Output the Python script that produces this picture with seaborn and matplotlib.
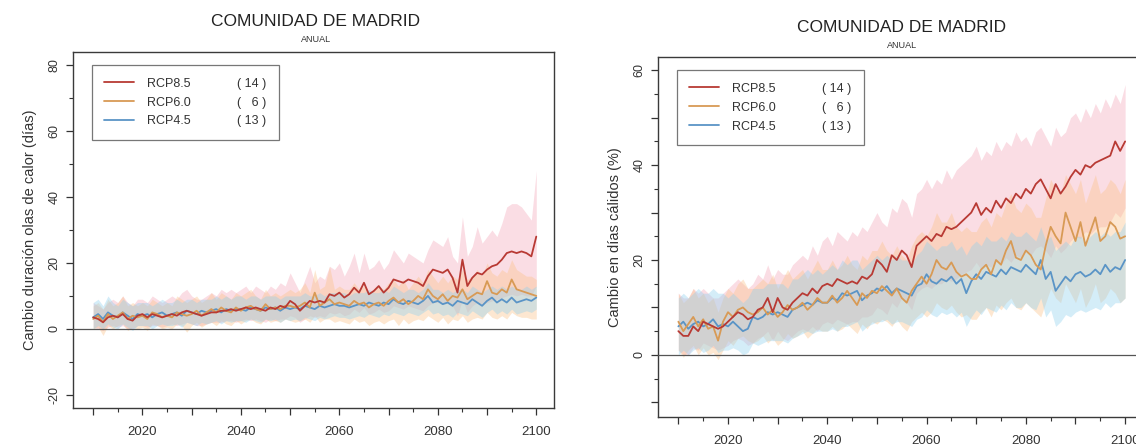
import numpy as np
import pandas as pd
import matplotlib
matplotlib.use("Agg")
import matplotlib.pyplot as plt
from matplotlib.lines import Line2D
from matplotlib.ticker import MultipleLocator, FuncFormatter
import seaborn as sns

# ---------------- data ----------------
years = list(range(2010, 2101))
scenarios = ["RCP8.5", "RCP6.0", "RCP4.5"]
n_models = [14, 6, 13]

# Left panel: Cambio duración olas de calor (días)
L85_mean = [3.5, 3.0, 2.0, 3.5, 4.0, 3.5, 4.5, 3.0, 2.5, 4.0,
            4.5, 3.5, 4.5, 4.0, 3.5, 4.0, 4.5, 4.0, 5.0, 5.5,
            5.0, 4.5, 4.0, 4.5, 5.0, 5.0, 5.5, 5.5, 6.0, 5.5,
            6.0, 6.5, 6.0, 6.5, 6.0, 5.5, 6.5, 6.0, 7.0, 6.5,
            8.5, 7.5, 5.5, 7.0, 8.5, 8.0, 8.5, 8.0, 10.5, 10.0,
            11.0, 9.5, 10.5, 12.5, 11.0, 14.0, 10.5, 11.5, 13.0, 11.0,
            12.5, 15.0, 14.5, 14.0, 15.0, 14.5, 14.0, 13.0, 16.0, 18.0,
            17.5, 17.0, 18.0, 15.5, 11.0, 21.0, 13.0, 15.5, 17.0, 16.5,
            18.0, 19.0, 19.5, 21.0, 23.0, 23.5, 23.0, 23.5, 23.0, 22.0, 28.0]
L85_hi = [8, 7, 6, 8, 9, 8, 10, 8, 7, 9,
          9, 8, 10, 9, 8, 9, 10, 9, 11, 12,
          10, 9, 9, 10, 11, 10, 12, 11, 12, 11,
          12, 13, 11, 13, 12, 11, 13, 12, 14, 13,
          17, 14, 11, 15, 19, 14, 16, 15, 19, 18,
          20, 16, 19, 23, 17, 23, 18, 19, 21, 18,
          20, 24, 22, 20, 23, 22, 21, 20, 24, 27,
          26, 25, 28, 22, 20, 34, 22, 25, 31, 26,
          28, 30, 28, 32, 37, 38, 38, 37, 35, 33, 48]
L85_lo = [0.5, 0, -0.5, 0.5, 1, 0.5, 1, 0, 0, 1,
          1, 0.5, 1, 1, 0.5, 1, 1.5, 1, 1.5, 2,
          1.5, 1, 1, 1.5, 2, 2, 2, 2.5, 2.5, 2,
          2.5, 3, 2.5, 3, 2.5, 2, 3, 2.5, 3, 3,
          4, 3.5, 2, 3, 4, 3.5, 4, 3.5, 5, 4.5,
          5, 4, 4.5, 6, 5, 6.5, 4.5, 5, 6, 5,
          5.5, 7, 6.5, 6, 7, 6.5, 6, 5.5, 7, 8,
          8, 7.5, 8, 7, 4, 9, 5, 7, 8, 7.5,
          8, 8.5, 9, 9.5, 10, 10.5, 10, 10.5, 10, 10, 13]

L60_mean = [3.0, 4.0, 2.0, 4.5, 3.0, 4.0, 5.0, 3.0, 4.0, 3.5,
            4.0, 3.0, 5.0, 4.5, 3.5, 4.0, 3.5, 5.0, 4.5, 4.0,
            4.5, 5.5, 4.0, 5.0, 6.0, 5.0, 6.5, 5.5, 5.0, 6.5,
            5.5, 6.5, 7.0, 6.0, 5.5, 7.5, 6.0, 6.5, 6.0, 7.0,
            7.0, 6.5, 7.0, 8.0, 6.5, 11.0, 7.0, 8.0, 9.0, 7.5,
            8.0, 7.5, 7.0, 8.5, 7.5, 8.0, 6.5, 7.5, 8.0, 7.0,
            8.5, 9.5, 8.0, 9.0, 7.5, 8.5, 10.0, 9.0, 12.0, 10.0,
            9.0, 10.5, 8.5, 10.0, 9.5, 12.0, 9.0, 10.0, 11.0, 10.5,
            14.5, 11.0, 10.5, 12.0, 11.0, 15.0, 12.0, 11.5, 11.0, 10.5, 10.0]
L60_hi = [7, 8, 6, 9, 7, 8, 10, 7, 8, 7,
          8, 7, 9, 8, 7, 8, 7, 10, 9, 8,
          9, 10, 8, 9, 11, 9, 11, 10, 9, 11,
          10, 11, 12, 10, 9, 12, 10, 11, 10, 11,
          12, 11, 12, 14, 11, 18, 12, 13, 19, 12,
          13, 12, 12, 14, 12, 13, 11, 12, 13, 12,
          14, 15, 13, 15, 12, 14, 16, 14, 18, 16,
          14, 16, 14, 16, 15, 18, 15, 16, 18, 16,
          20, 17, 16, 18, 17, 21, 18, 17, 16, 16, 15]
L60_lo = [0, 0.5, -2, 1, 0, 1, 1.5, -0.5, 0.5, 0,
          0.5, -0.5, 1.5, 1, 0, 0.5, 0, 1.5, 1, -1,
          1, 2, 0.5, 1.5, 2, 1, 2.5, 1.5, 1, 2.5,
          1.5, 2.5, 3, 2, 1.5, 3, 2, 2.5, 2, 3,
          2.5, 2, 2.5, 3, 2, 4, 2, 3, 3, 2,
          2.5, 2, 1.5, 3, 2, 2.5, 1, 2, 2.5, 1.5,
          2.5, 3, 1, 3, 1.5, 2.5, 3, 2.5, 4, 3,
          2, 3.5, 1.5, 3, 2.5, 4, 2, 3, 3.5, 3,
          5, 3.5, 3, 4, 3, 5, 4, 3.5, 3.5, 3, 3]

L45_mean = [3.5, 4.5, 3.0, 5.0, 4.0, 3.5, 5.0, 4.0, 3.0, 4.5,
            4.0, 4.5, 3.5, 4.5, 5.0, 4.0, 4.5, 5.0, 4.0, 5.5,
            5.0, 4.5, 5.5, 5.0, 5.5, 6.0, 5.0, 6.0, 5.5, 6.0,
            6.0, 5.5, 6.5, 6.0, 5.5, 6.5, 6.0, 6.5, 5.5, 6.5,
            6.0, 6.5, 6.0, 7.0, 6.5, 6.0, 7.0, 6.5, 7.0, 7.5,
            7.0, 7.0, 6.5, 7.0, 7.5, 7.0, 8.0, 7.5, 7.0, 8.0,
            7.5, 9.0, 8.0, 7.5, 8.5, 8.0, 7.5, 8.5, 10.0, 8.0,
            8.5, 7.5, 8.0, 7.0, 8.5, 8.0, 7.5, 9.0, 8.0, 7.0,
            8.5, 9.5, 8.0, 9.0, 8.0, 9.5, 8.0, 8.5, 9.0, 8.5, 9.5]
L45_hi = [8, 9, 7, 10, 8, 7, 9, 8, 7, 8,
          8, 8, 7, 8, 9, 8, 8, 9, 8, 9,
          9, 8, 9, 9, 9, 10, 9, 10, 9, 10,
          10, 9, 10, 10, 9, 10, 10, 10, 9, 10,
          10, 10, 10, 11, 10, 10, 11, 10, 11, 11,
          11, 11, 10, 11, 11, 11, 12, 11, 11, 12,
          11, 13, 12, 11, 12, 12, 11, 12, 14, 12,
          12, 11, 12, 11, 12, 12, 11, 13, 12, 11,
          12, 13, 12, 13, 12, 13, 12, 12, 13, 12, 13]
L45_lo = [0, 1, 0, 1.5, 0.5, 0, 1.5, 0.5, -0.5, 1,
          1, 1, 0, 1, 1.5, 1, 1, 1.5, 0.5, 2,
          1.5, 1, 2, 1.5, 2, 2.5, 1.5, 2.5, 2, 2.5,
          2.5, 2, 3, 2.5, 2, 3, 2.5, 3, 2, 3,
          2.5, 3, 2.5, 3.5, 3, 2.5, 3.5, 3, 3.5, 4,
          3.5, 3.5, 3, 3.5, 4, 3.5, 4.5, 4, 3.5, 4.5,
          4, 5, 4.5, 4, 5, 4.5, 4, 5, 6, 4.5,
          5, 4, 4.5, 3.5, 5, 4.5, 4, 5.5, 4.5, 3.5,
          5, 6, 4.5, 5.5, 4.5, 6, 4.5, 5, 5.5, 5, 6]

# Right panel: Cambio en días cálidos (%)
R85_mean = [5.0, 4.0, 4.0, 6.0, 5.0, 7.0, 6.5, 6.0, 5.5, 6.0,
            7.0, 8.0, 9.0, 8.5, 7.5, 8.0, 9.5, 10.0, 12.0, 9.0,
            12.0, 10.0, 9.5, 11.0, 12.0, 13.0, 12.5, 14.0, 13.0, 14.5,
            15.0, 14.5, 16.0, 15.5, 15.0, 15.5, 15.0, 16.5, 16.0, 17.0,
            20.0, 19.0, 17.5, 21.0, 20.0, 22.0, 21.0, 18.5, 23.0, 24.0,
            25.0, 24.0, 25.5, 25.0, 27.0, 26.5, 27.0, 28.0, 29.0, 30.0,
            32.0, 29.5, 31.0, 30.0, 32.5, 31.0, 33.0, 32.0, 34.0, 33.0,
            35.0, 34.0, 36.0, 37.0, 35.0, 33.0, 36.0, 34.0, 35.5, 37.5,
            39.0, 38.0, 40.0, 39.5, 40.5, 41.0, 41.5, 42.0, 45.0, 43.0, 45.0]
R85_hi = [13, 12, 12, 14, 13, 14, 13, 12, 12, 13,
          14, 15, 16, 15, 14, 15, 17, 16, 19, 16,
          18, 17, 17, 19, 20, 21, 20, 23, 21, 24,
          25, 23, 26, 25, 24, 26, 25, 27, 26, 28,
          30, 28, 27, 31, 30, 33, 32, 29, 34, 35,
          37, 35, 37, 36, 39, 37, 39, 40, 41, 42,
          44, 41, 43, 42, 45, 43, 45, 44, 47, 45,
          46, 44, 47, 48, 46, 44, 48, 46, 47, 50,
          51, 49, 52, 50, 53, 51, 54, 52, 55, 53, 57]
R85_lo = [1, 0, 0, 1.5, 1, 2.5, 2, 1.5, 1, 1.5,
          2, 3, 3.5, 3, 2, 2.5, 3.5, 4, 5, 3,
          5, 3.5, 3, 4, 5, 5.5, 5, 6, 5, 6.5,
          7, 6.5, 7.5, 7, 6.5, 7, 7, 8, 8, 8.5,
          10, 9.5, 8.5, 11, 10, 12, 11, 9.5, 13, 14,
          14.5, 14, 15, 15, 16, 15.5, 16, 17, 17.5, 18,
          19.5, 18, 19, 18.5, 20, 19, 20.5, 19.5, 21, 20.5,
          22, 21, 22.5, 23, 22, 20.5, 23, 21.5, 22.5, 24,
          25, 24.5, 26, 25.5, 26.5, 27, 27, 28, 30, 29, 31]

R60_mean = [7.0, 5.0, 6.5, 8.0, 6.0, 7.5, 5.5, 6.0, 3.0, 7.0,
            9.0, 8.0, 9.5, 10.0, 9.0, 8.5, 9.0, 10.0, 8.5, 9.5,
            8.0, 9.0, 10.5, 9.5, 10.0, 11.0, 9.5, 10.5, 12.0, 11.0,
            11.0, 12.5, 11.0, 12.0, 13.5, 12.0, 10.5, 13.0, 12.0, 13.5,
            13.0, 14.5, 13.5, 12.5, 14.0, 12.0, 11.0, 13.5, 15.0, 16.5,
            15.0, 17.0, 20.0, 18.5, 18.0, 19.5, 17.5, 16.5, 17.0, 16.0,
            16.0, 18.0, 19.0, 17.0, 20.0, 19.0, 22.0, 24.0, 20.5, 20.0,
            22.0, 21.0, 19.0, 18.0, 23.0, 27.0, 25.0, 23.5, 30.0, 27.0,
            24.0, 28.0, 23.0, 26.0, 29.0, 24.0, 25.0, 28.0, 27.0, 24.5, 25.0]
R60_hi = [13, 11, 12, 14, 12, 13, 11, 12, 9, 12,
          14, 13, 15, 16, 14, 14, 15, 16, 15, 17,
          14, 16, 18, 16, 17, 18, 16, 18, 20, 18,
          18, 20, 18, 19, 21, 19, 18, 21, 20, 22,
          22, 24, 22, 21, 23, 21, 20, 23, 25, 26,
          25, 27, 30, 28, 28, 30, 27, 26, 27, 26,
          26, 28, 29, 27, 30, 29, 32, 34, 31, 30,
          32, 31, 29, 29, 33, 37, 35, 34, 38, 36,
          34, 37, 32, 35, 38, 34, 35, 37, 36, 34, 37]
R60_lo = [1, -0.5, 1, 2, 0, 1.5, 0, 0.5, -1, 1,
          3, 2, 3.5, 4, 3, 2.5, 3, 4, 2.5, 3.5,
          2, 3, 4.5, 3.5, 4, 5, 3.5, 4.5, 5.5, 5,
          5, 6, 5, 5.5, 6.5, 5.5, 4.5, 6.5, 5.5, 7,
          6.5, 7.5, 7, 6, 7.5, 6, 5, 7, 8, 9,
          8, 9, 11, 10, 9.5, 10.5, 9, 8, 8.5, 7.5,
          7.5, 9, 10, 8, 10.5, 9.5, 11, 12, 10, 9.5,
          11, 10, 9, 8, 11, 14, 12, 11, 15, 13,
          11, 14, 10, 12, 15, 11, 12, 14, 13, 11, 12]

R45_mean = [6.0, 7.0, 5.5, 6.5, 7.0, 6.0, 6.5, 7.5, 6.0, 6.5,
            6.0, 7.0, 6.0, 5.0, 5.5, 8.0, 7.5, 8.0, 9.0, 8.5,
            9.0, 8.5, 8.0, 9.5, 10.0, 10.5, 11.0, 10.5, 11.5, 11.0,
            11.0, 12.0, 11.5, 13.0, 12.5, 13.0, 13.5, 11.5, 12.5, 13.0,
            14.0, 13.5, 14.5, 13.0, 14.0, 13.5, 13.0, 12.5, 14.5, 15.0,
            17.0, 15.5, 15.0, 16.0, 15.5, 16.5, 15.0, 16.0, 13.0, 15.5,
            17.0, 16.0, 17.5, 17.0, 16.5, 18.0, 17.0, 18.5, 18.0, 17.5,
            19.0, 18.0, 17.0, 20.0, 16.0, 17.5, 13.5, 15.0, 16.5, 15.5,
            17.0, 17.5, 16.5, 17.0, 18.0, 17.0, 19.0, 17.5, 18.5, 18.0, 20.0]
R45_hi = [12, 13, 12, 13, 14, 13, 13, 14, 13, 13,
          12, 13, 12, 11, 12, 14, 14, 14, 15, 15,
          15, 15, 14, 16, 16, 17, 18, 17, 18, 17,
          18, 19, 18, 20, 19, 20, 20, 18, 19, 20,
          21, 20, 21, 20, 21, 20, 20, 19, 21, 22,
          24, 23, 22, 23, 23, 24, 22, 23, 21, 23,
          24, 23, 25, 24, 24, 25, 24, 26, 25, 25,
          26, 25, 24, 27, 24, 25, 22, 23, 24, 23,
          25, 25, 24, 25, 26, 25, 26, 25, 26, 26, 28]
R45_lo = [0, 1, 0, 1, 1.5, 0.5, 1, 2, 0.5, 1,
          1, 1.5, 1, 0, 0.5, 2.5, 2, 2.5, 3, 3,
          3, 3, 2.5, 3.5, 4, 4.5, 5, 4.5, 5, 5,
          5, 5.5, 5, 6, 6, 6.5, 7, 5, 6, 6.5,
          7, 7, 7.5, 6.5, 7, 7, 6.5, 6, 7.5, 8,
          9.5, 8.5, 8, 9, 8.5, 9, 8, 9, 6, 8,
          9.5, 8.5, 10, 9.5, 9, 10.5, 9.5, 11, 10, 10,
          11, 10, 9.5, 12, 8, 9.5, 6, 7, 8.5, 8,
          9, 9.5, 9, 9.5, 10, 9.5, 11, 10, 11, 11, 12]

title = "COMUNIDAD DE MADRID"
subtitle = "ANUAL"
ylabels = ["Cambio duración olas de calor (días)", "Cambio en días cálidos (%)"]
x_ticklabels = [2020, 2040, 2060, 2080, 2100]

# ---------------- style ----------------
sns.set_theme(style="ticks")
plt.rcParams['font.family'] = ['Liberation Sans', 'DejaVu Sans']

line_colors = ["#b83a34", "#d89a55", "#5a94c6"]
fill_colors = ["#f4a6b8", "#fbc287", "#8fd0ef"]

fig = plt.figure(figsize=(11.36, 4.46), dpi=100)
axL = fig.add_axes([73 / 1136, 1 - 408 / 446, 481 / 1136, 356 / 446])
axR = fig.add_axes([658 / 1136, 1 - 417 / 446, 485 / 1136, 360 / 446])

panels = [
    (axL, [(L85_mean, L85_lo, L85_hi), (L60_mean, L60_lo, L60_hi), (L45_mean, L45_lo, L45_hi)],
     (-24, 84), 20, 10),
    (axR, [(R85_mean, R85_lo, R85_hi), (R60_mean, R60_lo, R60_hi), (R45_mean, R45_lo, R45_hi)],
     (-13.1, 62.8), 10, 5),
]

for i, (ax, series, ylim, ymaj, ymin) in enumerate(panels):
    # bands
    for (mean, lo, hi), fc in zip(series, fill_colors):
        ax.fill_between(years, lo, hi, color=fc, alpha=0.38, lw=0)
    ax.axhline(0, color="#555555", lw=0.9, zorder=3)
    # means
    for k, ((mean, lo, hi), lc) in enumerate(zip(series, line_colors)):
        df = pd.DataFrame({"year": years, "value": mean})
        sns.lineplot(data=df, x="year", y="value", ax=ax, color=lc, lw=1.3,
                     legend=False, zorder=4 + (2 - k) * 0.1)
    ax.set_xlim(2005.9, 2103.6)
    ax.set_ylim(*ylim)
    ax.set_xlabel("")
    ax.set_ylabel(ylabels[i], fontsize=10.5, labelpad=8, color="#333333")

    ax.xaxis.set_major_locator(MultipleLocator(10))
    ax.xaxis.set_minor_locator(MultipleLocator(5))
    ax.xaxis.set_major_formatter(FuncFormatter(
        lambda v, p: f"{int(round(v))}" if int(round(v)) in x_ticklabels else ""))
    ax.yaxis.set_major_locator(MultipleLocator(ymaj))
    ax.yaxis.set_minor_locator(MultipleLocator(ymin))
    ax.yaxis.set_major_formatter(FuncFormatter(
        lambda v, p: f"{int(round(v))}" if int(round(v)) % 20 == 0 else ""))
    ax.tick_params(axis="x", which="major", length=5, width=0.9, labelsize=9.5,
                   colors="#333333", pad=8)
    ax.tick_params(axis="x", which="minor", length=3, width=0.8, colors="#333333")
    ax.tick_params(axis="y", which="major", length=5, width=0.9, labelsize=9,
                   colors="#333333", labelrotation=90, pad=4)
    ax.tick_params(axis="y", which="minor", length=3, width=0.8, colors="#333333")
    for t in ax.get_yticklabels():
        t.set_va("center")
    for s in ax.spines.values():
        s.set_visible(True)
        s.set_color("#3a3a3a")
        s.set_linewidth(1.0)

    # legend
    handles = [Line2D([0], [0], color=c, lw=1.3) for c in line_colors]
    blanks = [Line2D([0], [0], color="none", lw=0) for _ in line_colors]
    counts = [f"( {n} )" if n >= 10 else f"(   {n} )" for n in n_models]
    leg = ax.legend(handles + blanks, scenarios + counts, ncol=2,
                    loc="upper left", bbox_to_anchor=(0.039, 0.963),
                    borderaxespad=0, fontsize=9, frameon=True, fancybox=False,
                    edgecolor="#555555", handlelength=2.4, handletextpad=1.0,
                    columnspacing=0.3, labelspacing=0.55, borderpad=1.0)
    leg.get_frame().set_linewidth(0.9)
    for t in leg.get_texts():
        t.set_color("#333333")

# titles
fig.text(316 / 1136, 1 - 21 / 446, title, ha="center", va="center", fontsize=12.5, color="#222222")
fig.text(316 / 1136, 1 - 40 / 446, subtitle, ha="center", va="center", fontsize=6.5, color="#333333")
fig.text(902 / 1136, 1 - 27 / 446, title, ha="center", va="center", fontsize=12.5, color="#222222")
fig.text(902 / 1136, 1 - 45 / 446, subtitle, ha="center", va="center", fontsize=6.5, color="#333333")

fig.savefig("out.png", dpi=100)
